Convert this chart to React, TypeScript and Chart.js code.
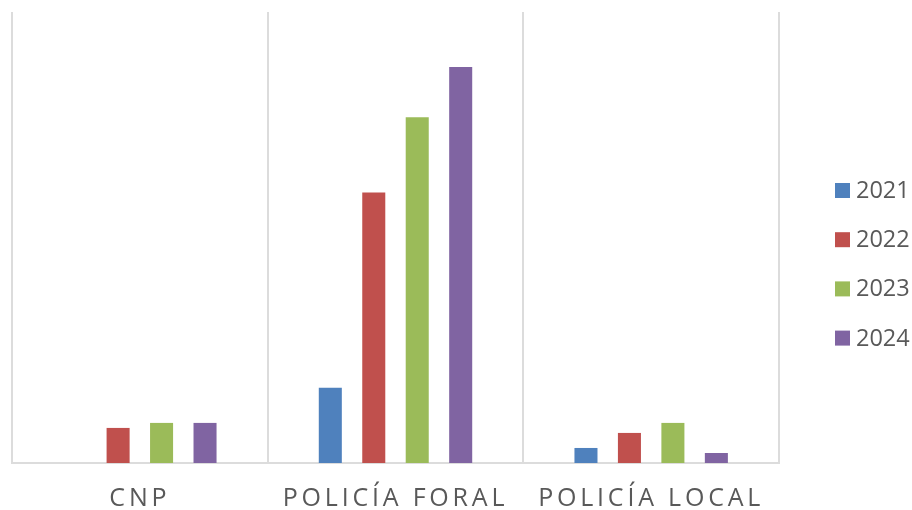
import React, { useEffect, useRef } from "react";
import { Chart, registerables } from "chart.js";

Chart.register(...registerables);

const categories = ["CNP", "POLICÍA FORAL", "POLICÍA LOCAL"];
const seriesLabels = ["2021", "2022", "2023", "2024"];
const values2021 = [0, 15, 3];
const values2022 = [7, 54, 6];
const values2023 = [8, 69, 8];
const values2024 = [8, 79, 2];
const seriesColors = ["#4F81BD", "#C0504D", "#9BBB59", "#8064A2"];
const yMin = 0;
const yMax = 90;

const TEXT_COLOR = "#595959";
const FONT = '"Open Sans", "DejaVu Sans", sans-serif';

const categoryLabelPlugin = {
  id: "categoryLabels",
  afterDraw(chart: any) {
    const ctx = chart.ctx;
    const xs = chart.scales.x;
    ctx.save();
    ctx.font = `25px ${FONT}`;
    ctx.fillStyle = TEXT_COLOR;
    ctx.textAlign = "center";
    ctx.textBaseline = "alphabetic";
    (ctx as any).letterSpacing = "3.8px";
    chart.data.labels.forEach((lab: string, i: number) => {
      const x = xs.getPixelForValue(i);
      ctx.fillText(lab, x, chart.chartArea.bottom + 43);
    });
    ctx.restore();
  },
};

const sideLegendPlugin = {
  id: "sideLegend",
  afterDraw(chart: any) {
    const ctx = chart.ctx;
    const area = chart.chartArea;
    ctx.save();
    ctx.font = `23.5px ${FONT}`;
    ctx.textAlign = "left";
    ctx.textBaseline = "alphabetic";
    const boxX = area.right + 56;
    const firstBase = 198;
    const step = 49.2;
    chart.data.datasets.forEach((ds: any, i: number) => {
      const base = firstBase + i * step;
      ctx.fillStyle = ds.backgroundColor;
      ctx.fillRect(boxX, base - 15, 15, 15);
      ctx.fillStyle = TEXT_COLOR;
      ctx.fillText(ds.label, boxX + 21, base);
    });
    ctx.restore();
  },
};

export default function App() {
  const ref = useRef<HTMLCanvasElement>(null);

  useEffect(() => {
    if (!ref.current) return;
    const seriesValues = [values2021, values2022, values2023, values2024];
    const chart = new Chart(ref.current, {
      type: "bar",
      data: {
        labels: categories,
        datasets: seriesLabels.map((label, i) => ({
          label,
          data: seriesValues[i],
          backgroundColor: seriesColors[i],
          borderWidth: 0,
          categoryPercentage: 0.68,
          barPercentage: 0.53,
        })),
      },
      options: {
        animation: false,
        responsive: true,
        maintainAspectRatio: false,
        layout: { padding: { left: 12, top: 12, right: 133, bottom: 47 } },
        plugins: {
          legend: { display: false },
          tooltip: { enabled: false },
          title: { display: false },
        },
        scales: {
          x: {
            display: true,
            grid: {
              display: true,
              offset: true,
              drawTicks: false,
              color: "#dcdcdc",
              lineWidth: 2,
            },
            border: { display: true, color: "#dcdcdc", width: 2 },
            ticks: { display: false },
          },
          y: {
            display: false,
            min: yMin,
            max: yMax,
          },
        },
      },
      plugins: [categoryLabelPlugin, sideLegendPlugin],
    });
    return () => chart.destroy();
  }, []);

  return (
    <div style={{ position: "fixed", left: 0, top: 0, width: 912, height: 510, background: "#ffffff" }}>
      <canvas ref={ref} />
    </div>
  );
}
